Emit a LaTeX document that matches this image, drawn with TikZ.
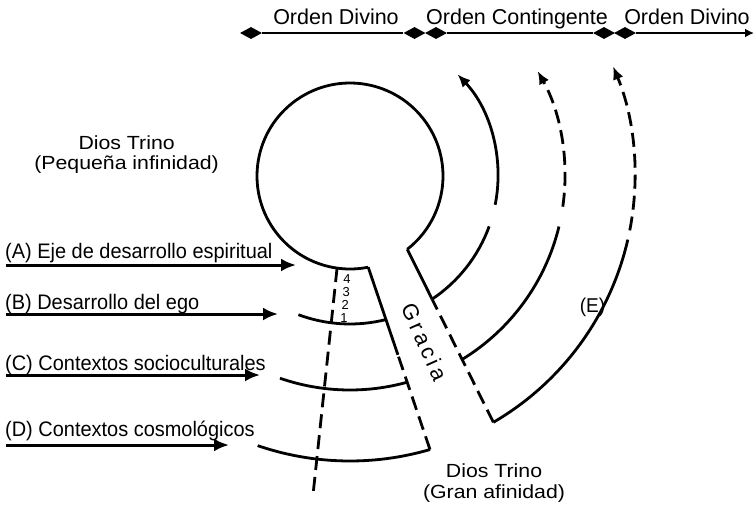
\documentclass[tikz,border=0pt]{standalone}
\usepackage{fontspec}
\setmainfont{Liberation Sans}
\newfontfamily\widefont{Liberation Sans}[FakeStretch=1.12]
\newfontfamily\narrowfont{Liberation Sans}[FakeStretch=0.95]
\newfontfamily\spacedfont{Liberation Sans}[LetterSpace=16]
\usetikzlibrary{arrows.meta,shapes.geometric,calc}
\begin{document}
\begin{tikzpicture}[x=1pt,y=-1pt,
  lw/.style={line width=2.8pt},
  dsh/.style={dash pattern=on 14pt off 7pt},
  dia/.style={diamond, fill=black, draw=none, inner sep=0pt, minimum width=22pt, minimum height=12pt},
  topline/.style={line width=2.8pt},
  lbl/.style={font=\narrowfont\fontsize{21}{24}\selectfont, anchor=base west, inner sep=0pt},
  toplbl/.style={font=\fontsize{21.5}{24}\selectfont, anchor=base, inner sep=0pt},
  dios/.style={font=\widefont\fontsize{19}{18}\selectfont, anchor=base, inner sep=0pt},
  larrow/.style={line width=3pt, -{Latex[length=15pt,width=13pt]}},
  rarrow/.style={-{Latex[length=13pt,width=11pt]}},
  num/.style={font=\fontsize{13}{13}\selectfont, inner sep=0pt},
]
\path[fill=white,use as bounding box] (0,0) rectangle (755,507);

% centre of all circles
\coordinate (C) at (350,176);

% ---- top bar ----
\node[toplbl] (od1) at (336,24) {Orden Divino};
\node[toplbl] (oc) at (517,24) {Orden Contingente};
\node[toplbl] (od2) at (687,24) {Orden Divino};
\node[dia] (d1) at (251,33) {};
\node[dia] (d2) at (414.5,33) {};
\node[dia] (d3) at (436,33) {};
\node[dia] (d4) at (604,33) {};
\node[dia] (d5) at (625,33) {};
\coordinate (tEnd) at (754,33);
\draw[topline] (d1) -- (d2);
\draw[topline] (d3) -- (d4);
\draw[topline,-{Latex[length=9pt,width=9pt]}] (d5) -- (tEnd);

% ---- main circle ----
\draw[lw] (C) ++(52:93) arc[start angle=52, end angle=-281.3, radius=93];
\path (C) ++(52:93) coordinate (cR);
\path (C) ++(78.7:93) coordinate (cB);
\path (C) ++(98:93) coordinate (cL);
\coordinate (L1end) at (313,495);
\path (C) ++(73.7:285) coordinate (dR);
\path (C) ++(59.8:285) coordinate (eS);
\path (C) ++(56.3:148) coordinate (a1e);
\coordinate (L2m) at ($(cB)!0.4805!(dR)$);

% radial-ish lines
\draw[lw,dsh] (cL) -- (L1end);
\draw[lw] (cB) -- (L2m);
\draw[lw,dsh] (dR) -- (L2m);
\draw[lw] (cR) -- (a1e);
\draw[lw,dsh] (eS) -- (a1e);

% ---- left arcs ----
\draw[lw] (C) ++(110.4:148) arc[start angle=110.4, end angle=75.9, radius=148];
\draw[lw] (C) ++(109.1:214) arc[start angle=109.1, end angle=74.5, radius=214];
\draw[lw] (C) ++(108.9:285) arc[start angle=108.9, end angle=73.7, radius=285];

% ---- right arcs ----
\draw[lw] (C) ++(56.3:148) arc[start angle=56.3, end angle=19.9, radius=148];
\draw[lw,rarrow] (C) ++(11.2:148) arc[start angle=11.2, end angle=-43.4, radius=148];
\draw[lw] (C) ++(58.6:215) arc[start angle=58.6, end angle=13.6, radius=215];
\draw[lw,dsh,rarrow] (C) ++(8.2:215) arc[start angle=8.2, end angle=-29.2, radius=215];
\draw[lw] (C) ++(59.8:285) arc[start angle=59.8, end angle=12.9, radius=285];
\draw[lw,dsh,rarrow] (C) ++(11:285) arc[start angle=11, end angle=-22.6, radius=285];

% ---- labels ----
\node[dios] (dt1) at (126.6,149.5) {Dios Trino};
\node[dios] (dt2) at (126.6,169.5) {(Pequeña infinidad)};
\node[dios] (dt3) at (494,477) {Dios Trino};
\node[dios] (dt4) at (494,498) {(Gran afinidad)};

\node[lbl] (la) at (5,258) {(A) Eje de desarrollo espiritual};
\node[lbl] (lb) at (5,309) {(B) Desarrollo del ego};
\node[lbl] (lc) at (5,370) {(C) Contextos socioculturales};
\node[lbl] (ld) at (5,436.7) {(D) Contextos cosmológicos};

\coordinate (aS) at (6,265);  \coordinate (aE) at (296,265);
\coordinate (bS) at (6,314);  \coordinate (bE) at (278,314);
\coordinate (cS) at (6,375);  \coordinate (cE) at (260,375);
\coordinate (dS) at (6,445);  \coordinate (dE) at (229,445);
\draw[larrow] (aS) -- (aE);
\draw[larrow] (bS) -- (bE);
\draw[larrow] (cS) -- (cE);
\draw[larrow] (dS) -- (dE);

\node[num] (n4) at (347,279.3) {4};
\node[num] (n3) at (346.2,292) {3};
\node[num] (n2) at (345.2,305) {2};
\node[num] (n1) at (344,317.7) {1};

\node[font=\spacedfont\fontsize{22}{22}\selectfont, rotate=-66, inner sep=0pt] (gr) at (424.5,342)
  {Gracia};

\node[font=\narrowfont\fontsize{20}{20}\selectfont, inner sep=0pt] (le) at (592.5,307.5) {(E)};
\end{tikzpicture}
\end{document}
